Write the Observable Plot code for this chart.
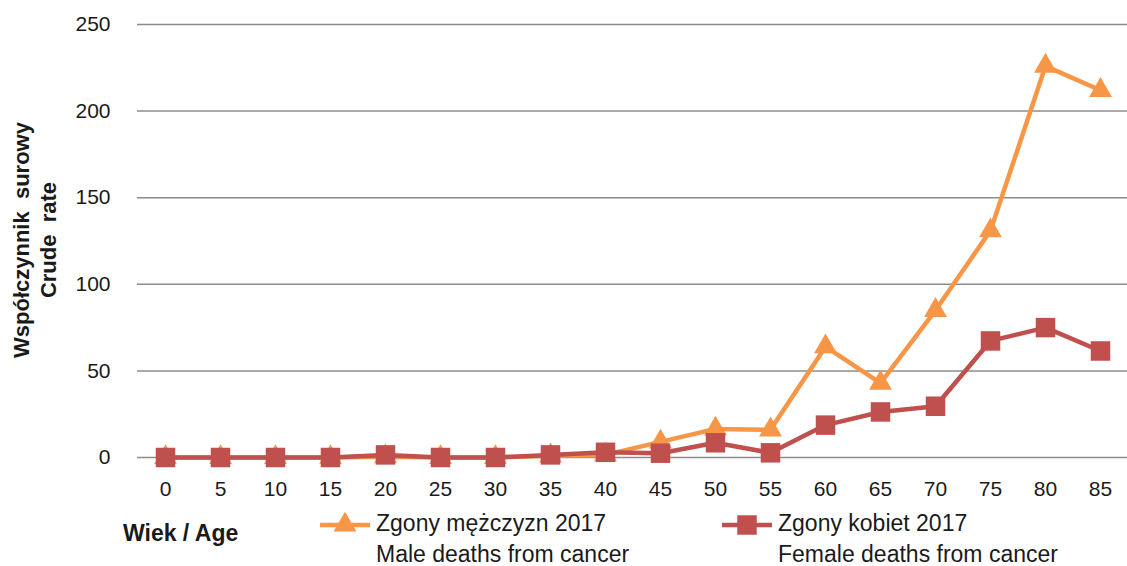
<!DOCTYPE html>
<html><head><meta charset="utf-8">
<script src="https://cdn.jsdelivr.net/npm/d3@7"></script>
<script src="https://cdn.jsdelivr.net/npm/@observablehq/plot@0.6"></script>
<style>body{margin:0;background:#fff}</style>
</head><body><div id="chart"></div>
<script>
const ages = [0,5,10,15,20,25,30,35,40,45,50,55,60,65,70,75,80,85];
const maleRates   = [0,0,0,0,0.5,0,0,1,1.5,9,16.5,16,64,43,85,131,226,212];
const femaleRates = [0,0,0,0,1.5,0,0,1.5,3,2.5,8.5,2.7,18.7,26.3,29.6,67.3,75,61.5];
const yTicks = [0,50,100,150,200,250];
const maleLabel = ["Zgony mężczyzn 2017","Male deaths from cancer"];
const femaleLabel = ["Zgony kobiet 2017","Female deaths from cancer"];
const yTitle = ["Współczynnik  surowy","Crude  rate"];
const xTitle = "Wiek / Age";

const orange = "#F79646", red = "#C0504D";
const font = "'Liberation Sans', Arial, sans-serif";
const male = ages.map((a,i)=>({age:a, rate:maleRates[i]}));
const female = ages.map((a,i)=>({age:a, rate:femaleRates[i]}));

const plot = Plot.plot({
  width:1127, height:566,
  marginLeft:137, marginRight:0, marginTop:24, marginBottom:109,
  style:{fontFamily:font, fontSize:"21px", color:"#1a1a1a", background:"#fff"},
  x:{type:"point", domain:ages, padding:0.5},
  y:{domain:[0,250]},
  marks:[
    Plot.ruleY(yTicks,{stroke:"#8c8c8c", strokeWidth:1.5}),
    Plot.axisY({ticks:yTicks, tickSize:0, tickPadding:27, fontSize:21, label:null}),
    Plot.axisX({tickSize:0, tickPadding:24, fontSize:21, label:null}),
    Plot.line(male,{x:"age", y:"rate", stroke:orange, strokeWidth:4.5}),
    Plot.dot(male,{x:"age", y:"rate", symbol:"triangle", r:8.5, fill:orange}),
    Plot.line(female,{x:"age", y:"rate", stroke:red, strokeWidth:4.5}),
    Plot.dot(female,{x:"age", y:"rate", symbol:"square", r:11, fill:red})
  ]
});
document.getElementById("chart").appendChild(plot);

const svg = d3.select(plot);
const g = svg.append("g").attr("font-family", font).attr("fill", "#1a1a1a").attr("text-anchor","start");
// y title
yTitle.forEach((t,i)=>{
  g.append("text").attr("transform", `translate(${i===0?23:50},240) rotate(-90)`)
    .attr("text-anchor","middle").attr("dominant-baseline","middle")
    .attr("font-weight","bold").attr("font-size",22).style("white-space","pre").text(t);
});
// x title
g.append("text").attr("x",123).attr("y",535).attr("dominant-baseline","middle")
  .attr("font-weight","bold").attr("font-size",23).text(xTitle);
// legend
function legendItem(x0, color, kind, labels){
  g.append("line").attr("x1",x0).attr("x2",x0+50).attr("y1",525).attr("y2",525)
    .attr("stroke",color).attr("stroke-width",4.5);
  const sym = kind==="triangle" ? d3.symbolTriangle : d3.symbolSquare;
  const r = kind==="triangle" ? 8.5 : 11;
  g.append("path").attr("d", d3.symbol(sym, r*r*Math.PI)()).attr("fill",color)
    .attr("transform",`translate(${x0+25},525)`);
  labels.forEach((t,i)=>{
    g.append("text").attr("x",x0+56).attr("y",525+31*i).attr("dominant-baseline","middle")
      .attr("font-size",23).text(t);
  });
}
legendItem(320, orange, "triangle", maleLabel);
legendItem(722, red, "square", femaleLabel);
</script>
</body></html>
